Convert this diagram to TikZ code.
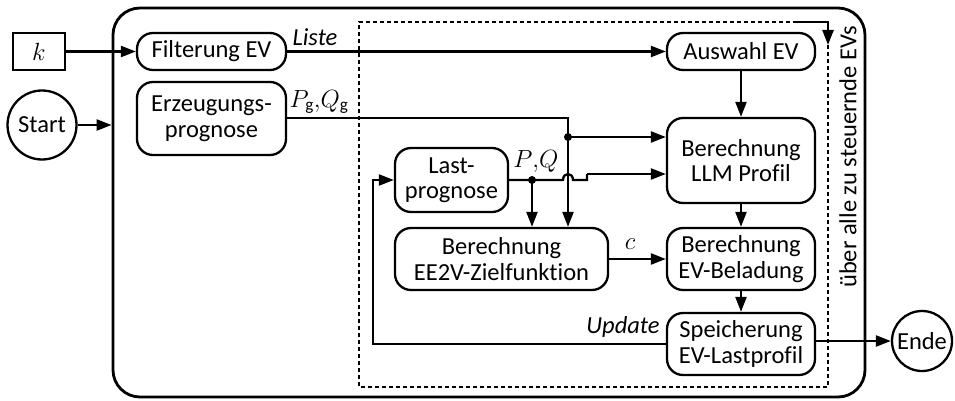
\documentclass[tikz,border=0pt]{standalone}
\usepackage{fontspec}
\setmainfont{Carlito}[Ligatures=CommonOff]
\usetikzlibrary{arrows.meta}
\begin{document}
\begin{tikzpicture}[x=1pt,y=-1pt,
  font=\fontsize{24.5}{25.5}\selectfont,
  box/.style={draw, line width=2.3pt, rounded corners=16pt, align=center, inner sep=0pt},
  conn/.style={line width=2.3pt, -{Triangle[length=15pt,width=11pt]}},
  wire/.style={line width=2.3pt},
  dotline/.style={line width=2.2pt, dash pattern=on 4pt off 3pt},
  junction/.style={circle, fill, inner sep=0pt, minimum size=8pt},
  lbl/.style={inner sep=0pt}]

\useasboundingbox (0,0) rectangle (955,401);

% outer frame and loop frame
\node[draw, line width=2.8pt, rounded corners=27pt, minimum width=752pt, minimum height=389pt, inner sep=0pt] (outer) at (489,202.5) {};
\coordinate (loopA) at (800,22);
\coordinate (loopB) at (797,22);
\coordinate (loopC) at (828,22);
\coordinate (loopD) at (828,45);
\draw[dotline] (loopD) -- (828,387) -- (359,387) -- (359,22) -- (loopA);
\draw[conn] (loopB) -- (loopC) -- (loopD);
\node[rotate=90, inner sep=0pt] at (848,157) {über alle zu steuernde EVs};

% inputs and outputs
\node[draw, line width=2.3pt, minimum width=52pt, minimum height=37pt, inner sep=0pt] (k) at (39,51.5) {$k$};
\node[draw, circle, line width=2.3pt, minimum size=69pt, inner sep=0pt] (start) at (42,125) {Start};
\node[draw, circle, line width=2.3pt, minimum size=60pt, inner sep=0pt] (ende) at (922,341) {Ende};

% process steps
\node[box, minimum width=149pt, minimum height=37pt] (filt) at (211.5,51.5) {Filterung EV};
\node[box, minimum width=149pt, minimum height=73pt] (erz) at (211.5,118.5) {Erzeugungs-\\prognose};
\node[box, minimum width=148pt, minimum height=37pt] (ausw) at (741,51.5) {Auswahl EV};
\node[box, minimum width=148pt, minimum height=85pt] (llm) at (741,160.5) {Berechnung\\LLM Profil};
\node[box, minimum width=113pt, minimum height=64pt] (last) at (451.5,180) {Last-\\prognose};
\node[box, minimum width=213pt, minimum height=62pt] (ziel) at (501.5,259) {Berechnung\\EE2V-Zielfunktion};
\node[box, minimum width=148pt, minimum height=62pt] (bel) at (741,259) {Berechnung\\EV-Beladung};
\node[box, minimum width=148pt, minimum height=62pt] (spei) at (741,344) {Speicherung\\EV-Lastprofil};

% junction points
\node[junction] (pg) at (568,137) {};
\node[junction] (pq) at (532,180) {};
\coordinate (erzcorner) at (568,118);
\coordinate (hopL) at (563,180);
\coordinate (hopR) at (573,180);
\coordinate (stepA) at (587,180);
\coordinate (stepB) at (587,174);
\coordinate (updA) at (373,344);
\coordinate (updB) at (373,180);

% connectors
\draw[conn] (k.east) -- (filt.west);
\draw[conn] (start.east) -- (start.east -| outer.west);
\draw[conn] (filt.east) -- (ausw.west);
\draw[wire] (erz.east |- erzcorner) -- (erzcorner) -- (pg.center);
\draw[conn] (pg.center) -- (pg.center -| llm.west);
\draw[conn] (pg.center) -- (pg.center |- ziel.north);
\draw[wire] (last.east) -- (pq.center) -- (hopL) .. controls (563,172) and (573,172) .. (hopR) -- (stepA) -- (stepB);
\draw[conn] (stepB) -- (stepB -| llm.west);
\draw[conn] (pq.center) -- (pq.center |- ziel.north);
\draw[conn] (ausw.south) -- (llm.north);
\draw[conn] (llm.south) -- (bel.north);
\draw[conn] (ziel.east) -- (bel.west);
\draw[conn] (bel.south) -- (spei.north);
\draw[conn] (spei.west |- updA) -- (updA) -- (updB) -- (last.west);
\draw[conn] (ende.west -| spei.east) -- (ende.west);

% labels
\node[lbl] at (315,37) {\itshape Liste};
\node[lbl] at (319,102) {$P_{\mathrm{g}}{,}Q_{\mathrm{g}}$};
\node[lbl] at (536,161) {$P{,}Q$};
\node[lbl] at (630,244) {$c$};
\node[lbl] at (623,327) {\itshape Update};
\end{tikzpicture}
\end{document}
